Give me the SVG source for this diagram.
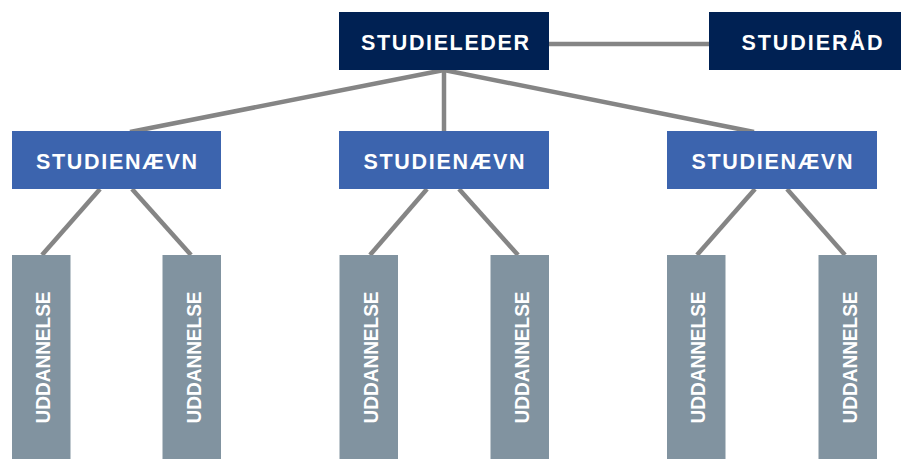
<svg xmlns="http://www.w3.org/2000/svg" width="901" height="459" viewBox="0 0 901 459">
<style>
  .lead { fill: #002153; }
  .sn { fill: #3c64ae; }
  .ud { fill: #8193a0; }
  .t { font-family: "Liberation Sans", Arial, sans-serif; font-weight: bold; font-size: 21.5px; fill: #ffffff; text-anchor: middle; }
  .v { font-size: 21px; }
  .conn line { stroke: #858585; stroke-width: 4.5; }
</style>
<rect width="901" height="459" fill="#ffffff"/>
<g class="conn" id="connectors">
  <line x1="549" y1="44" x2="710" y2="44"/>
  <line x1="444" y1="70" x2="130" y2="132"/>
  <line x1="444" y1="70" x2="444" y2="132"/>
  <line x1="444" y1="70" x2="754" y2="132"/>
  <line x1="100" y1="189" x2="42" y2="255"/>
  <line x1="132" y1="189" x2="191" y2="255"/>
  <line x1="427" y1="189" x2="370" y2="255"/>
  <line x1="459" y1="189" x2="518" y2="255"/>
  <line x1="755" y1="189" x2="697" y2="255"/>
  <line x1="787" y1="189" x2="845" y2="255"/>
</g>
<g id="studieleder">
  <rect class="lead" x="339" y="12" width="210" height="58"/>
  <text class="t" x="445" y="49.5" textLength="168">STUDIELEDER</text>
</g>
<g id="studieraad">
  <rect class="lead" x="709" y="12" width="200" height="58"/>
  <text class="t" x="812" y="49.5" textLength="141">STUDIERÅD</text>
</g>
<g id="studienaevn1">
  <rect class="sn" x="12" y="131" width="209" height="58"/>
  <text class="t" x="116.5" y="168.5" textLength="161">STUDIENÆVN</text>
</g>
<g id="studienaevn2">
  <rect class="sn" x="339" y="131" width="210" height="58"/>
  <text class="t" x="444" y="168.5" textLength="161">STUDIENÆVN</text>
</g>
<g id="studienaevn3">
  <rect class="sn" x="667" y="131" width="210" height="58"/>
  <text class="t" x="772" y="168.5" textLength="161">STUDIENÆVN</text>
</g>
<g id="uddannelse1">
  <rect class="ud" x="12" y="255" width="58.5" height="204"/>
  <text class="t v" transform="translate(50,357.5) rotate(-90)" textLength="132" lengthAdjust="spacingAndGlyphs">UDDANNELSE</text>
</g>
<g id="uddannelse2">
  <rect class="ud" x="162.5" y="255" width="58.5" height="204"/>
  <text class="t v" transform="translate(200.5,357.5) rotate(-90)" textLength="132" lengthAdjust="spacingAndGlyphs">UDDANNELSE</text>
</g>
<g id="uddannelse3">
  <rect class="ud" x="339.5" y="255" width="58.5" height="204"/>
  <text class="t v" transform="translate(377.5,357.5) rotate(-90)" textLength="132" lengthAdjust="spacingAndGlyphs">UDDANNELSE</text>
</g>
<g id="uddannelse4">
  <rect class="ud" x="490.5" y="255" width="58.5" height="204"/>
  <text class="t v" transform="translate(528.5,357.5) rotate(-90)" textLength="132" lengthAdjust="spacingAndGlyphs">UDDANNELSE</text>
</g>
<g id="uddannelse5">
  <rect class="ud" x="667" y="255" width="58.5" height="204"/>
  <text class="t v" transform="translate(705,357.5) rotate(-90)" textLength="132" lengthAdjust="spacingAndGlyphs">UDDANNELSE</text>
</g>
<g id="uddannelse6">
  <rect class="ud" x="818.5" y="255" width="58.5" height="204"/>
  <text class="t v" transform="translate(856.5,357.5) rotate(-90)" textLength="132" lengthAdjust="spacingAndGlyphs">UDDANNELSE</text>
</g>
</svg>
